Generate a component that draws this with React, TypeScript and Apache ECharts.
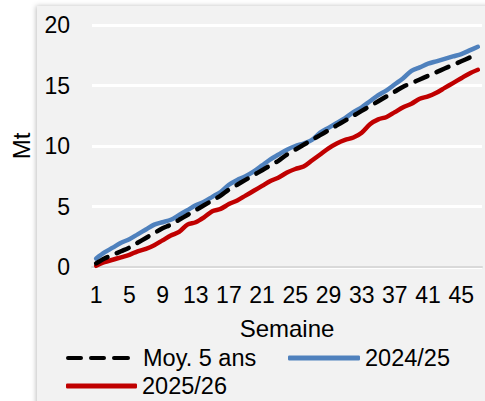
import React, { useEffect, useRef } from "react";
import * as echarts from "echarts";

const weeks: string[] = Array.from({ length: 47 }, (_, i) => String(i + 1));

const moy5ans: number[] = [
  0.3, 0.7, 1.0, 1.3, 1.6, 2.0, 2.4, 2.8, 3.2, 3.5,
  3.9, 4.3, 4.7, 5.1, 5.5, 5.9, 6.4, 6.8, 7.2, 7.6,
  8.0, 8.4, 8.8, 9.3, 9.7, 10.1, 10.5, 10.9, 11.3, 11.7,
  12.1, 12.5, 12.9, 13.3, 13.7, 14.1, 14.5, 14.9, 15.2, 15.5,
  15.8, 16.1, 16.4, 16.7, 17.0, 17.3, 17.6,
];

const s2024: number[] = [
  0.7, 1.2, 1.6, 2.0, 2.3, 2.7, 3.1, 3.5, 3.7, 3.9,
  4.3, 4.7, 5.1, 5.4, 5.8, 6.2, 6.8, 7.2, 7.5, 7.9,
  8.4, 8.9, 9.3, 9.7, 10.0, 10.2, 10.5, 11.1, 11.5, 11.9,
  12.3, 12.8, 13.2, 13.7, 14.2, 14.6, 15.1, 15.6, 16.2, 16.5,
  16.8, 17.0, 17.2, 17.4, 17.6, 17.9, 18.2,
];

const s2025: number[] = [
  0.1, 0.4, 0.6, 0.8, 1.0, 1.3, 1.5, 1.8, 2.2, 2.6,
  2.9, 3.5, 3.7, 4.1, 4.6, 4.8, 5.2, 5.5, 5.9, 6.3,
  6.7, 7.1, 7.4, 7.8, 8.1, 8.3, 8.8, 9.3, 9.8, 10.2,
  10.5, 10.7, 11.1, 11.8, 12.2, 12.4, 12.8, 13.2, 13.5, 13.9,
  14.1, 14.4, 14.8, 15.2, 15.6, 16.0, 16.3,
];

const FONT = "Liberation Sans, Arial, sans-serif";

const DASH_ICON =
  "path://M2,0 L15,0 A2,2 0 0 1 15,4 L2,4 A2,2 0 0 1 2,0 Z M25,0 L38,0 A2,2 0 0 1 38,4 L25,4 A2,2 0 0 1 25,0 Z M48,0 L62,0 A2,2 0 0 1 62,4 L48,4 A2,2 0 0 1 48,0 Z";

export default function App() {
  const ref = useRef<HTMLDivElement>(null);
  useEffect(() => {
    if (!ref.current) return;
    const chart = echarts.init(ref.current, null, { renderer: "svg" });
    const textStyle = { fontSize: 23.5, color: "#000", fontFamily: FONT };
    const legendBase = {
      orient: "horizontal",
      padding: 0,
      itemHeight: 5,
      itemGap: 5,
      selectedMode: false,
    };
    chart.setOption({
      animation: false,
      backgroundColor: "#ffffff",
      graphic: [
        {
          type: "rect",
          z: -10,
          silent: true,
          shape: { x: 37, y: 6, width: 460, height: 410 },
          style: {
            fill: "#f2f2f2",
            shadowBlur: 5,
            shadowColor: "rgba(0,0,0,0.25)",
            shadowOffsetX: -1,
            shadowOffsetY: 0,
          },
        },
      ],
      grid: { left: 92, right: 3, top: 25, bottom: 134, containLabel: false },
      legend: [
        {
          ...legendBase,
          data: [{ name: "Moy. 5 ans", icon: DASH_ICON, itemStyle: { color: "#000" } }],
          itemWidth: 64,
          left: 66,
          top: 346,
          textStyle: { ...textStyle, padding: [0, 0, 0, 8] },
        },
        {
          ...legendBase,
          data: [{ name: "2024/25", icon: "roundRect", itemStyle: { color: "#4f81bd" } }],
          itemWidth: 72,
          left: 288,
          top: 346,
          textStyle,
        },
        {
          ...legendBase,
          data: [{ name: "2025/26", icon: "roundRect", itemStyle: { color: "#c00000" } }],
          itemWidth: 71,
          left: 66,
          top: 374,
          textStyle,
        },
      ],
      xAxis: {
        type: "category",
        data: weeks,
        boundaryGap: true,
        name: "Semaine",
        nameLocation: "middle",
        nameGap: 49,
        nameTextStyle: { fontSize: 24, color: "#000", fontFamily: FONT },
        axisLine: { show: true, lineStyle: { color: "#d9d9d9", width: 2 } },
        axisTick: { show: false },
        axisLabel: {
          interval: 3,
          fontSize: 23,
          color: "#000",
          fontFamily: FONT,
          margin: 16,
        },
        splitLine: { show: false },
      },
      yAxis: {
        type: "value",
        min: 0,
        max: 20,
        interval: 5,
        name: "Mt",
        nameLocation: "middle",
        nameGap: 58,
        nameRotate: 90,
        nameTextStyle: { fontSize: 24, color: "#000", fontFamily: FONT },
        axisLine: { show: false },
        axisTick: { show: false },
        axisLabel: { fontSize: 23, color: "#000", fontFamily: FONT, margin: 22 },
        splitLine: { show: true, lineStyle: { color: "#ffffff", width: 3 } },
      },
      series: [
        {
          name: "Moy. 5 ans",
          type: "line",
          data: moy5ans,
          symbol: "none",
          smooth: 0.3,
          z: 3,
          itemStyle: { color: "#000000" },
          lineStyle: { color: "#000000", width: 4.5, type: [13, 10], cap: "round" },
        },
        {
          name: "2024/25",
          type: "line",
          data: s2024,
          symbol: "none",
          smooth: 0.3,
          z: 2,
          itemStyle: { color: "#4f81bd" },
          lineStyle: { color: "#4f81bd", width: 4.5, cap: "round" },
        },
        {
          name: "2025/26",
          type: "line",
          data: s2025,
          symbol: "none",
          smooth: 0.3,
          z: 2,
          itemStyle: { color: "#c00000" },
          lineStyle: { color: "#c00000", width: 4.5, cap: "round" },
        },
      ],
    });
    return () => chart.dispose();
  }, []);
  return (
    <div
      ref={ref}
      style={{ position: "absolute", left: 0, top: 0, width: 485, height: 401 }}
    />
  );
}
